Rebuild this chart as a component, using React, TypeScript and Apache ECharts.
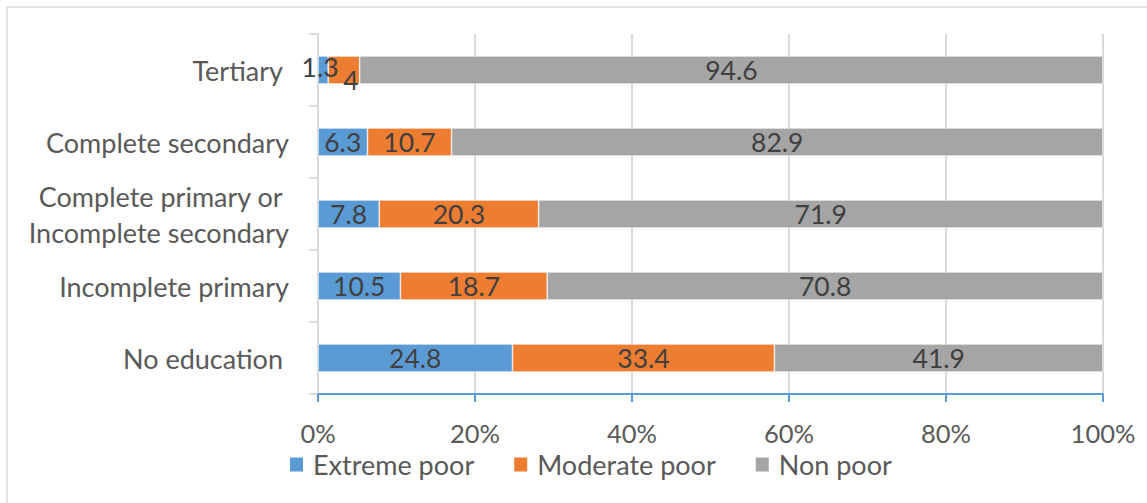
import React, { useEffect, useRef } from "react";
import * as echarts from "echarts";

// Categories listed bottom-to-top (ECharts category y axis starts at the bottom)
const categories = [
  "No education",
  "Incomplete primary",
  "Complete primary or \nIncomplete secondary",
  "Complete secondary",
  "Tertiary",
];
const extremePoor = [24.8, 10.5, 7.8, 6.3, 1.3];
const moderatePoor = [33.4, 18.7, 20.3, 10.7, 4];
const nonPoor = [41.9, 70.8, 71.9, 82.9, 94.6];
const seriesNames = ["Extreme poor", "Moderate poor", "Non poor"];
const colors = ["#5B9BD5", "#ED7D31", "#A5A5A5"];
const tickValues = [0, 20, 40, 60, 80, 100];

const FONT = "Lato, 'Open Sans', sans-serif";

export default function App() {
  const ref = useRef<HTMLDivElement>(null);
  useEffect(() => {
    if (!ref.current) return;
    const chart = echarts.init(ref.current, undefined, { renderer: "svg" });
    const raw = [extremePoor, moderatePoor, nonPoor];
    const totals = categories.map((_, i) => raw.reduce((s, arr) => s + arr[i], 0));
    const labelOffsets: Record<string, [number, number]> = {
      "0-4": [-3, -3],
      "1-4": [7, 10],
    };
    const series = raw.map((arr, si) => ({
      name: seriesNames[si],
      type: "bar",
      stack: "total",
      barWidth: 28,
      itemStyle: { color: colors[si], borderColor: "#ffffff", borderWidth: 0.6 },
      label: {
        show: true,
        position: "inside",
        color: "#404040",
        fontSize: 26.5,
        fontFamily: FONT,
      },
      data: arr.map((v, ci) => {
        const item: any = { value: (v / totals[ci]) * 100 };
        const off = labelOffsets[`${si}-${ci}`];
        item.label = { formatter: String(v), ...(off ? { offset: off } : {}) };
        return item;
      }),
    }));
    const extraPad: Record<string, number> = { "No education": 6, Tertiary: 6 };
    chart.setOption({
      animation: false,
      backgroundColor: "#ffffff",
      textStyle: { fontFamily: FONT },
      graphic: [
        {
          type: "rect",
          shape: { x: 7, y: 7, width: 1160, height: 520 },
          style: { fill: "none", stroke: "#D9D9D9", lineWidth: 1.5 },
          silent: true,
        },
      ],
      grid: { left: 318, right: 44, top: 34, bottom: 109, containLabel: false },
      legend: {
        left: 283,
        top: 446,
        itemWidth: 15,
        itemHeight: 16,
        itemGap: 38,
        icon: "rect",
        textStyle: { fontSize: 27, color: "#595959", fontFamily: FONT, padding: [0, 0, 0, 4] },
        data: seriesNames,
      },
      xAxis: {
        type: "value",
        min: tickValues[0],
        max: tickValues[tickValues.length - 1],
        interval: tickValues[1] - tickValues[0],
        axisLine: { show: true, lineStyle: { color: "#5B9BD5", width: 2 } },
        axisTick: { show: true, length: 8, lineStyle: { color: "#5B9BD5", width: 2 } },
        axisLabel: {
          formatter: "{value}%",
          fontSize: 25.5,
          color: "#595959",
          margin: 26,
          fontFamily: FONT,
        },
        splitLine: { show: true, lineStyle: { color: "#D9D9D9", width: 2 } },
      },
      yAxis: {
        type: "category",
        data: categories.map((c) =>
          extraPad[c] ? { value: c, textStyle: { padding: [0, extraPad[c], 0, 0] } } : c
        ),
        axisLine: { show: true, lineStyle: { color: "#D9D9D9", width: 2 } },
        axisTick: { show: true, length: 9, lineStyle: { color: "#D9D9D9", width: 2 } },
        axisLabel: {
          fontSize: 27,
          color: "#595959",
          margin: 29,
          lineHeight: 36,
          fontFamily: FONT,
        },
      },
      series,
    });
    return () => chart.dispose();
  }, []);
  return (
    <div
      ref={ref}
      style={{ position: "fixed", left: 0, top: 0, width: 1147, height: 503 }}
    />
  );
}
